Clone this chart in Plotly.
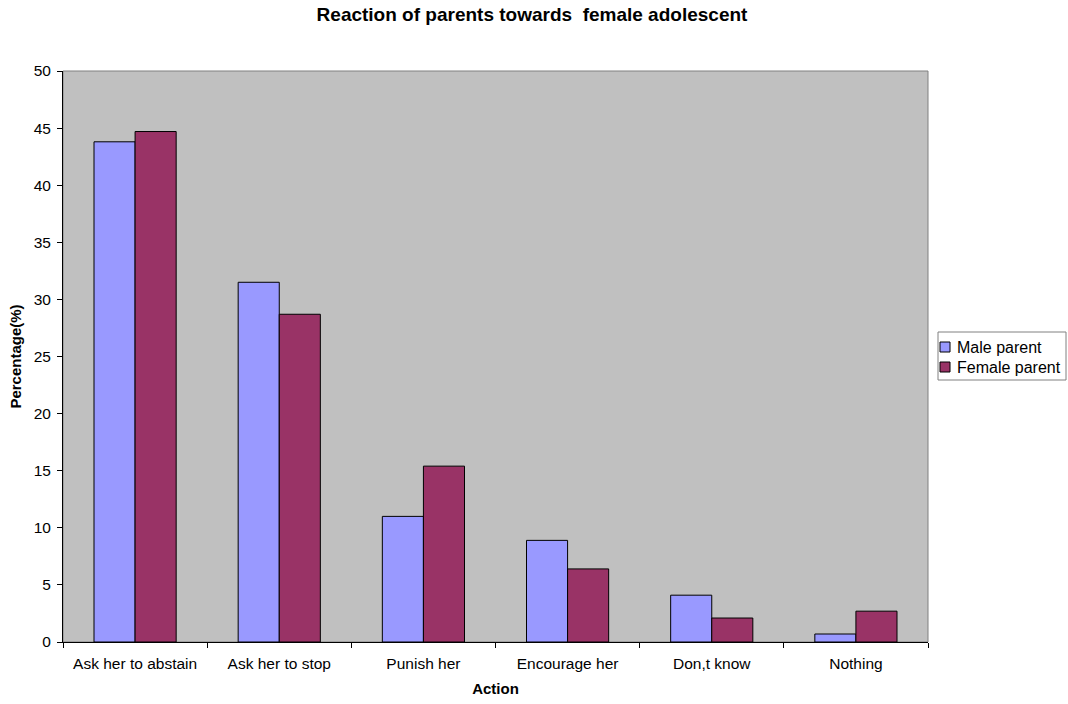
import plotly.graph_objects as go

categories = ["Ask her to abstain", "Ask her to stop", "Punish her", "Encourage her", "Don,t know", "Nothing"]
series_names = ["Male parent", "Female parent"]
male_parent = [43.8, 31.5, 11.0, 8.9, 4.1, 0.7]
female_parent = [44.7, 28.7, 15.4, 6.4, 2.1, 2.7]
series_values = [male_parent, female_parent]
series_colors = ["#9999FF", "#993366"]
y_ticks = [0, 5, 10, 15, 20, 25, 30, 35, 40, 45, 50]

FONT = "Liberation Sans, Arial, sans-serif"

fig = go.Figure()
for name, vals, col in zip(series_names, series_values, series_colors):
    fig.add_trace(go.Bar(name=name, x=categories, y=vals, showlegend=False,
                         marker=dict(color=col, line=dict(color="black", width=1))))

# plot area in page pixels: x 63..928, y 71..642 (body margin removed below)
fig.update_layout(
    width=1068, height=704,
    margin=dict(l=63, r=140, t=71, b=62, autoexpand=False),
    paper_bgcolor="white", plot_bgcolor="#C0C0C0",
    barmode="group", bargap=0.43, bargroupgap=0,
    font=dict(family=FONT, size=15.5, color="black"),
    title=dict(text="<b>Reaction of parents towards  female adolescent</b>",
               x=532 / 1068, xanchor="center", xref="container", yref="container",
               y=1 - 14.5 / 704, yanchor="middle",
               font=dict(size=19, family=FONT)),
    showlegend=False,
)
fig.update_xaxes(
    title=dict(text="<b>Action</b>", font=dict(size=15, family=FONT), standoff=12),
    automargin=False,
    showline=True, linecolor="black", linewidth=1,
    ticks="outside", tickson="boundaries", ticklen=5, tickcolor="black",
    ticklabelstandoff=7,
    showgrid=False, tickfont=dict(size=15.5),
)
fig.update_yaxes(
    title=dict(text="<b>Percentage(%)</b>", font=dict(size=15, family=FONT), standoff=8),
    automargin=False,
    range=[0, 50], tickvals=y_ticks, ticktext=[str(v) for v in y_ticks],
    showline=True, linecolor="black", linewidth=1,
    ticks="outside", ticklen=5, tickcolor="black",
    ticklabelstandoff=3,
    showgrid=False, zeroline=False, tickfont=dict(size=15.5),
)
fig.add_shape(type="rect", xref="paper", yref="paper", x0=0, y0=0, x1=1, y1=1,
              line=dict(color="#808080", width=1), layer="below")

# legend box drawn in paper coordinates (right of plot area)
W, H = 865.0, 571.0
def px(fx):
    return (fx - 63) / W
def py(fy):
    return (642 - fy) / H

fig.add_shape(type="rect", xref="paper", yref="paper",
              x0=px(938), x1=px(1066), y0=py(380), y1=py(332),
              line=dict(color="#808080", width=1), fillcolor="white")
for i, (name, col) in enumerate(zip(series_names, series_colors)):
    cy = 347 + 20 * i
    fig.add_shape(type="rect", xref="paper", yref="paper",
                  x0=px(940), x1=px(950), y0=py(cy + 5), y1=py(cy - 5),
                  line=dict(color="black", width=1), fillcolor=col)
    fig.add_annotation(x=px(955), y=py(cy), xref="paper", yref="paper",
                       text=name, showarrow=False, xanchor="left", yanchor="middle",
                       font=dict(size=16, family=FONT, color="black"))

fig.write_html("out.html", config={"displayModeBar": False},
               post_script="document.body.style.margin='0';")
